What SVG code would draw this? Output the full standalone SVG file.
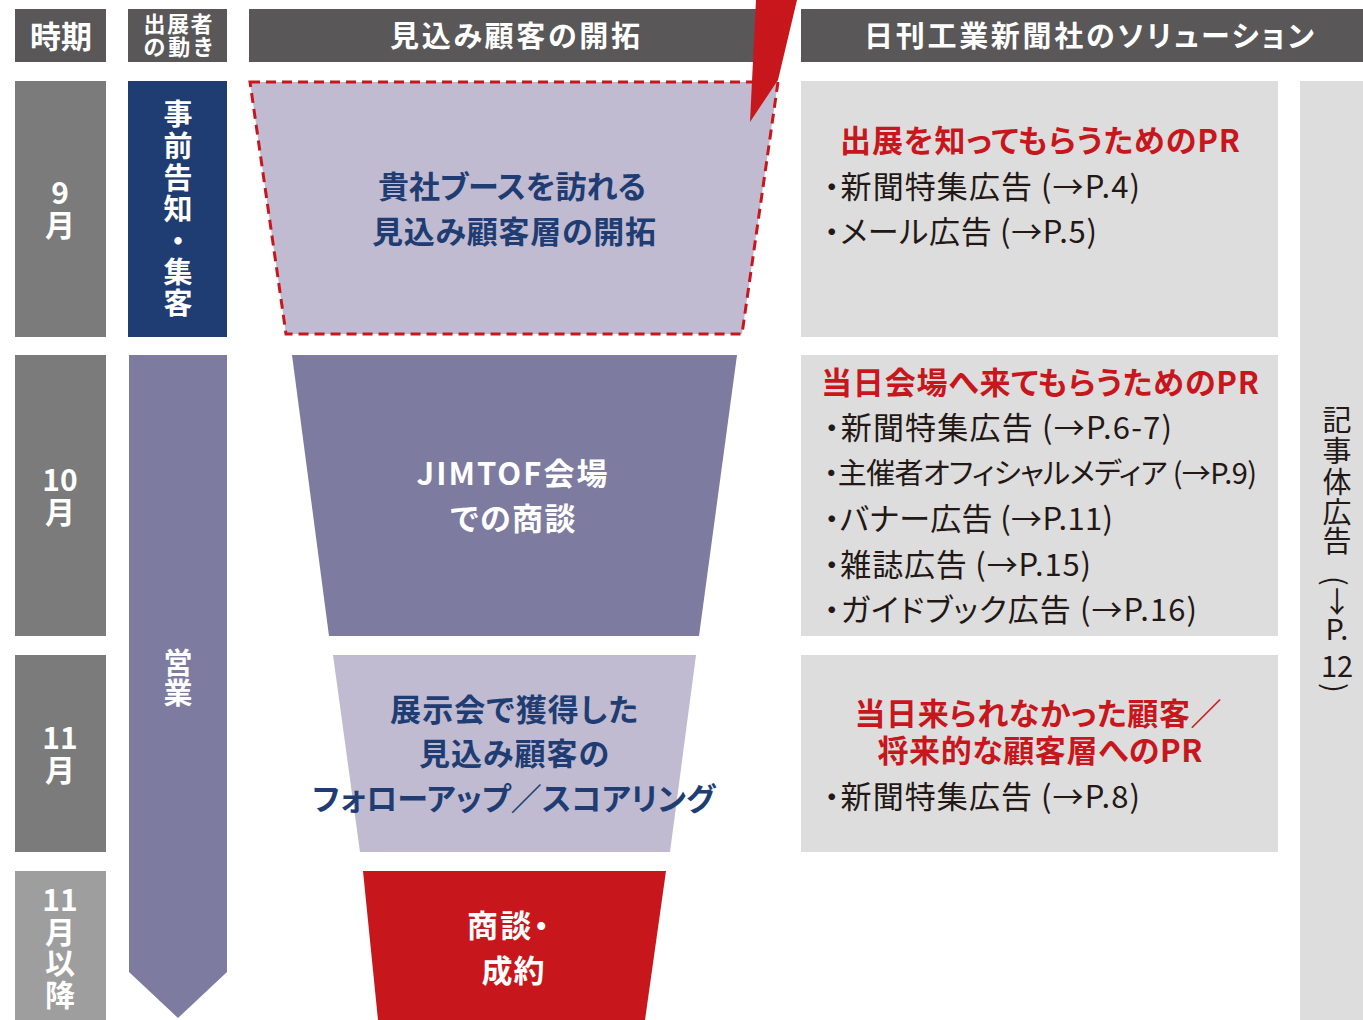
<svg xmlns="http://www.w3.org/2000/svg" width="1363" height="1020" viewBox="0 0 1363 1020">
<style>
text{font-family:"Noto Sans CJK JP","Noto Sans",sans-serif;font-feature-settings:"palt";dominant-baseline:central;text-anchor:middle}
.hd{fill:#595758}
.ht{fill:#fff;font-weight:700;font-size:29px}
.mo{fill:#fff;font-weight:700;font-size:30px}
.vw{fill:#fff;font-weight:700;font-size:29px}
.fn{fill:#1f3d73;font-weight:700;font-size:31px}
.fw{fill:#fff;font-weight:700;font-size:31px}
.sol{fill:#dcdddc}
.rh{fill:#c8161d;font-weight:700;font-size:31px}
.it{fill:#231815;font-size:31px;text-anchor:start}
.vt{fill:#231815;font-size:29px}
</style>
<g id="headers">
<rect class="hd" x="15" y="9" width="91" height="53"/>
<text class="ht" x="61" y="34" style="font-size:31px">時期</text>
<rect class="hd" x="128" y="9" width="99" height="53"/>
<text class="ht" x="178" y="22" style="font-size:22px" textLength="69">出展者</text>
<text class="ht" x="178" y="45" style="font-size:22px" textLength="69">の動き</text>
<rect class="hd" x="249" y="9" width="530" height="53"/>
<text class="ht" x="515" y="34" textLength="250">見込み顧客の開拓</text>
<rect class="hd" x="801" y="9" width="562" height="53"/>
<text class="ht" x="1089" y="34" textLength="450">日刊工業新聞社のソリューション</text>
</g>
<g id="month-9">
<rect x="15" y="81" width="91" height="256" fill="#7b7b7b"/>
<text class="mo" x="60" y="191">9</text>
<text class="mo" x="60" y="223">月</text>
</g>
<g id="month-10">
<rect x="15" y="355" width="91" height="281" fill="#7b7b7b"/>
<text class="mo" x="60" y="478">10</text>
<text class="mo" x="60" y="510">月</text>
</g>
<g id="month-11">
<rect x="15" y="655" width="91" height="197" fill="#7b7b7b"/>
<text class="mo" x="60" y="736">11</text>
<text class="mo" x="60" y="768">月</text>
</g>
<g id="month-11-later">
<rect x="15" y="871" width="91" height="149" fill="#9d9e9d"/>
<text class="mo" x="60" y="898">11</text>
<text class="mo" x="60" y="930">月</text>
<text class="mo" x="60" y="961">以</text>
<text class="mo" x="60" y="993">降</text>
</g>
<g id="move-notice">
<rect x="128" y="81" width="99" height="256" fill="#1f3d73"/>
<text class="vw" x="178" y="112">事</text>
<text class="vw" x="178" y="144">前</text>
<text class="vw" x="178" y="176">告</text>
<text class="vw" x="178" y="207">知</text>
<text class="vw" x="178" y="239">・</text>
<text class="vw" x="178" y="270">集</text>
<text class="vw" x="178" y="301">客</text>
</g>
<g id="move-sales">
<polygon points="129,355 227,355 227,972 178,1018 129,972" fill="#7e7ba0"/>
<text class="vw" x="178" y="661">営</text>
<text class="vw" x="178" y="691">業</text>
</g>
<g id="funnel-1">
<polygon points="250,82 778,82 742,334 286,334" fill="#c0bbd0" stroke="#c8161d" stroke-width="3" stroke-dasharray="10 6"/>
<text class="fn" x="512" y="184" textLength="268">貴社ブースを訪れる</text>
<text class="fn" x="514" y="229" textLength="284">見込み顧客層の開拓</text>
</g>
<g id="funnel-2">
<polygon points="292,355 737,355 699,636 329,636" fill="#7e7ba0"/>
<text class="fw" x="512" y="471" textLength="191">JIMTOF会場</text>
<text class="fw" x="513" y="516" textLength="125">での商談</text>
</g>
<g id="funnel-3">
<polygon points="333,655 696,655 670,852 360,852" fill="#c0bbd0"/>
<text class="fn" x="514" y="707" textLength="248">展示会で獲得した</text>
<text class="fn" x="514" y="751" textLength="190">見込み顧客の</text>
<text class="fn" x="514" y="796" textLength="403">フォローアップ／スコアリング</text>
</g>
<g id="funnel-4">
<polygon points="363,871 666,871 645,1020 378,1020" fill="#c8161d"/>
<text class="fw" x="508" y="923" textLength="82">商談・</text>
<text class="fw" x="513" y="968" textLength="63">成約</text>
</g>
<g id="bolt">
<polygon points="756,0 797,0 778,80 750,122" fill="#c8161d"/>
</g>
<g id="solution-1">
<rect class="sol" x="801" y="81" width="477" height="256"/>
<text class="rh" x="1040" y="138" textLength="400">出展を知ってもらうためのPR</text>
<text class="it" x="824" y="184" textLength="316">・新聞特集広告 (→P.4)</text>
<text class="it" x="824" y="229" textLength="273">・メール広告 (→P.5)</text>
</g>
<g id="solution-2">
<rect class="sol" x="801" y="355" width="477" height="281"/>
<text class="rh" x="1040" y="380" textLength="438">当日会場へ来てもらうためのPR</text>
<text class="it" x="824" y="425" textLength="348">・新聞特集広告 (→P.6-7)</text>
<text class="it" x="824" y="471" textLength="433" style="font-size:29px">・主催者オフィシャルメディア (→P.9)</text>
<text class="it" x="824" y="516" textLength="289">・バナー広告 (→P.11)</text>
<text class="it" x="824" y="562" textLength="267">・雑誌広告 (→P.15)</text>
<text class="it" x="824" y="607" textLength="373">・ガイドブック広告 (→P.16)</text>
</g>
<g id="solution-3">
<rect class="sol" x="801" y="655" width="477" height="197"/>
<text class="rh" x="1038" y="711" textLength="367">当日来られなかった顧客／</text>
<text class="rh" x="1040" y="748" textLength="325">将来的な顧客層へのPR</text>
<text class="it" x="824" y="794" textLength="316">・新聞特集広告 (→P.8)</text>
</g>
<g id="solution-article">
<rect class="sol" x="1300" y="81" width="63" height="939"/>
<text class="vt" x="1337" y="418">記</text>
<text class="vt" x="1337" y="449">事</text>
<text class="vt" x="1337" y="480">体</text>
<text class="vt" x="1337" y="510">広</text>
<text class="vt" x="1337" y="539">告</text>
<text class="vt" x="1337" y="581" transform="rotate(90 1337 581)">(</text>
<text class="vt" x="1337" y="600">↓</text>
<text class="vt" x="1337" y="627">P.</text>
<text class="vt" x="1337" y="664">12</text>
<text class="vt" x="1337" y="688" transform="rotate(90 1337 688)">)</text>
</g>
<g id="connectors"/>
</svg>
